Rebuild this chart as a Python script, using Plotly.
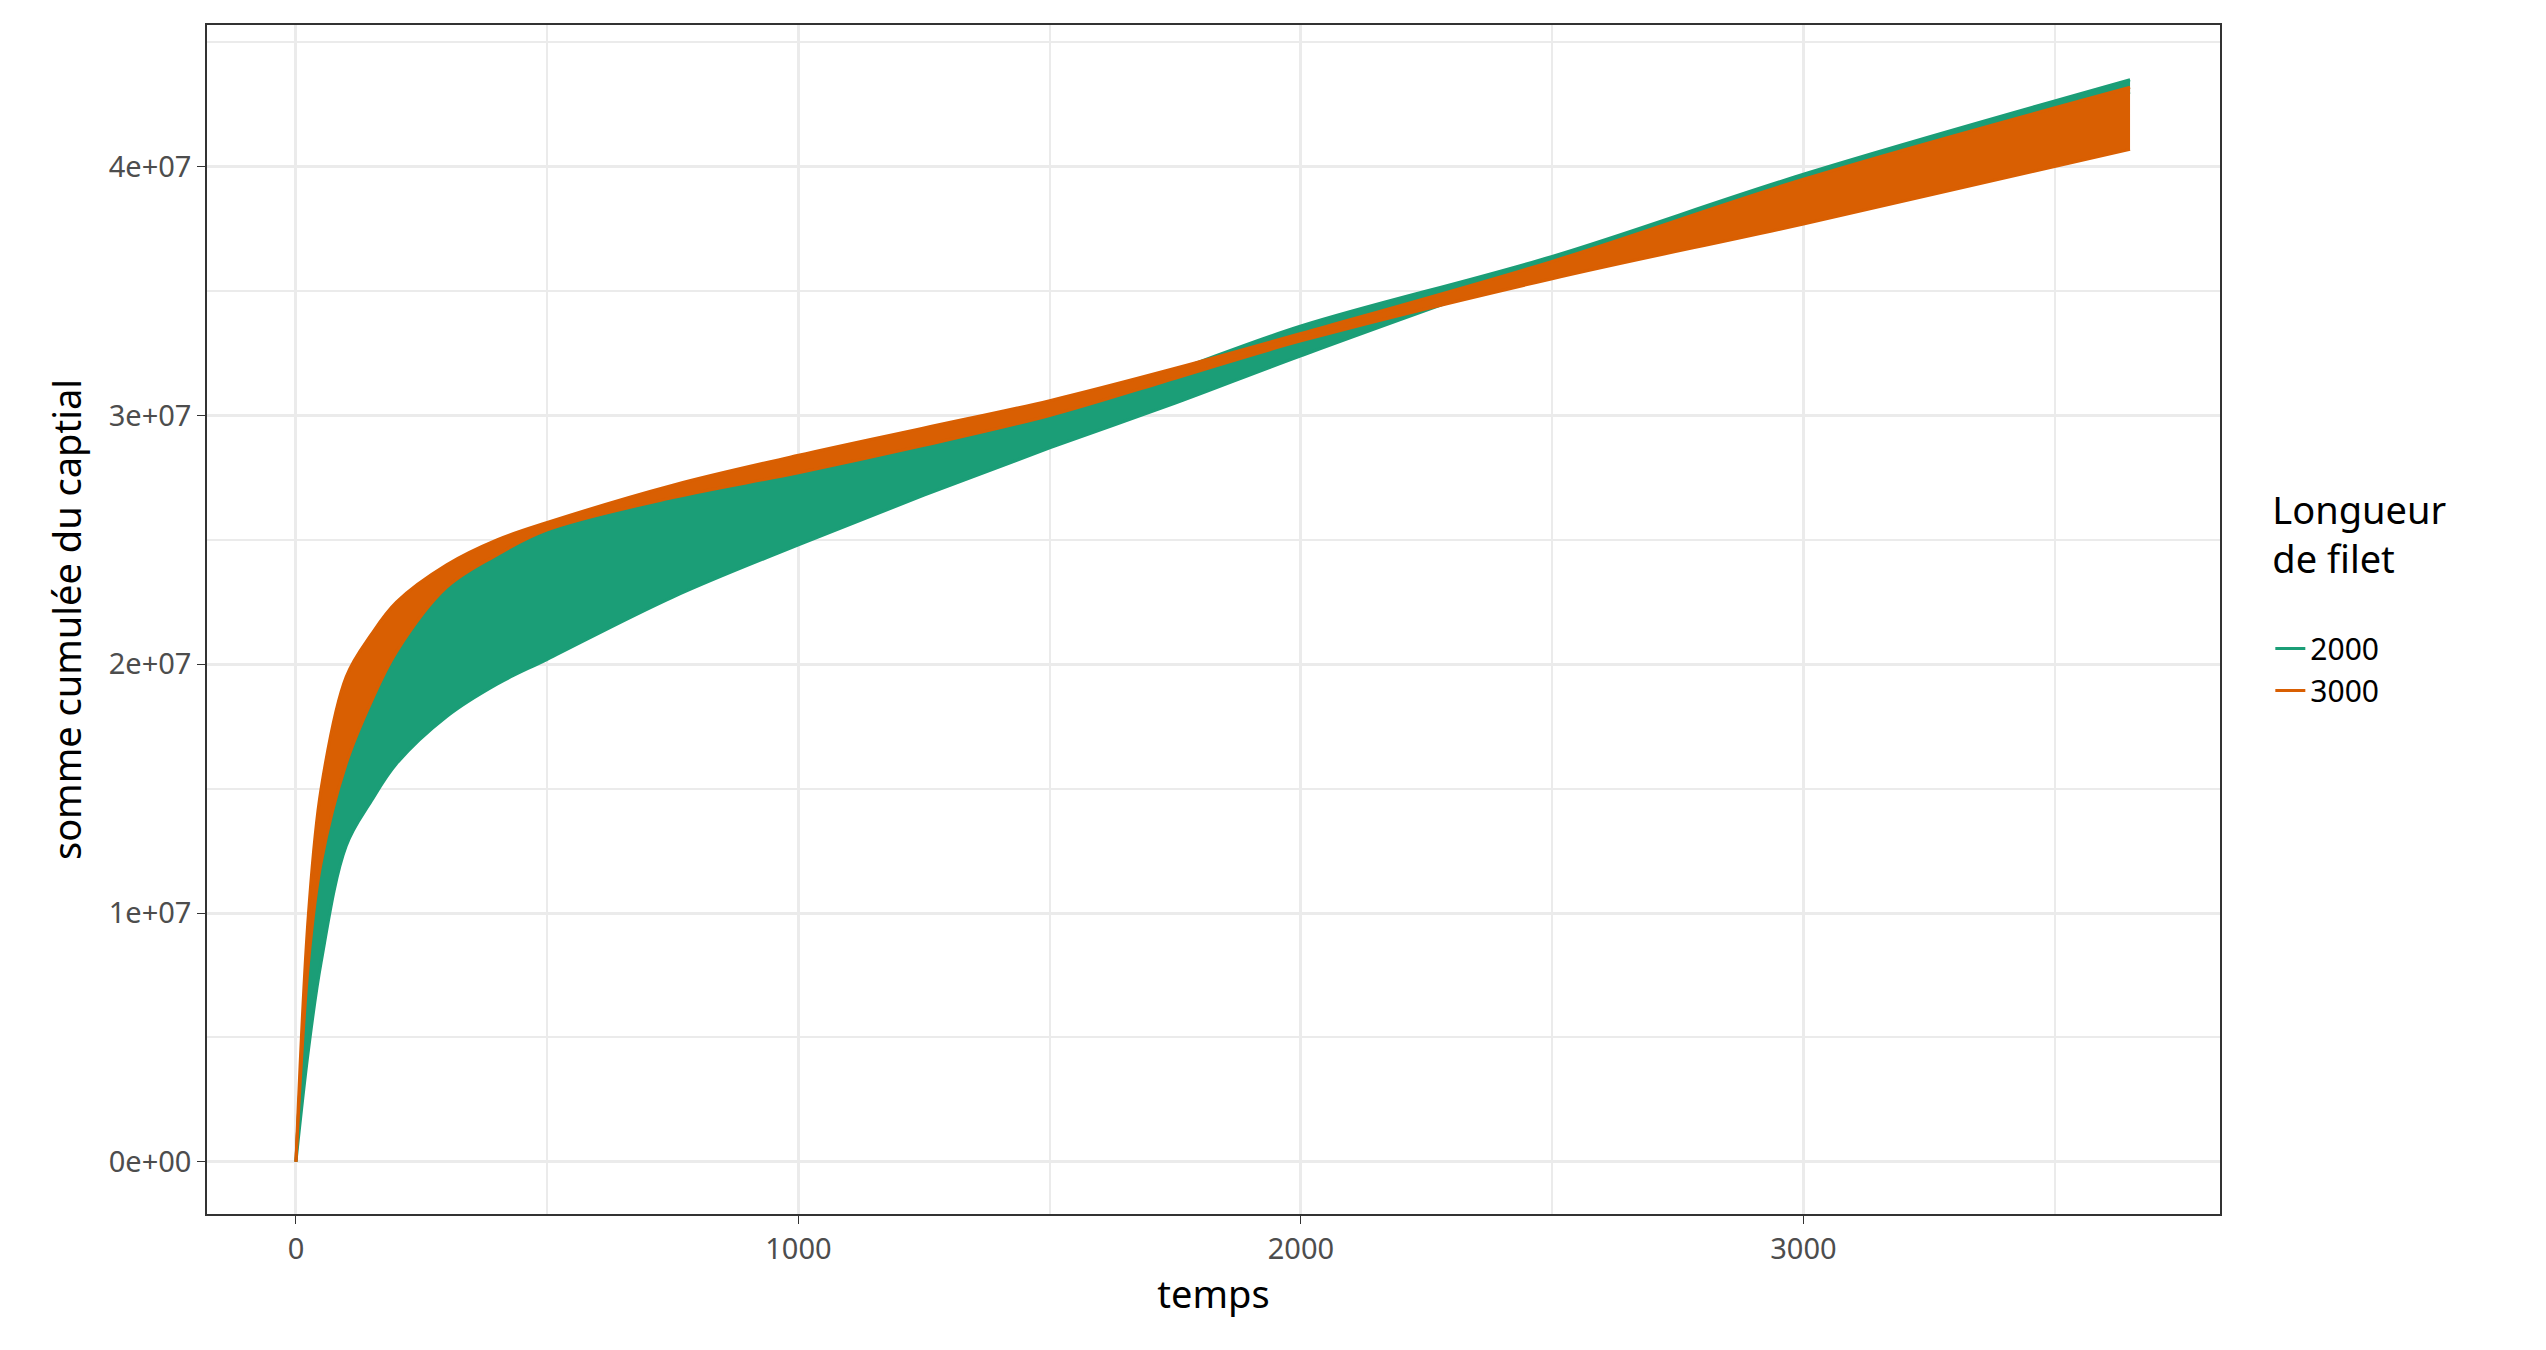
import plotly.graph_objects as go

temps = [0, 25, 50, 100, 150, 200, 300, 400, 500, 750, 1000, 1250, 1500, 1750, 2000, 2500, 3000, 3650]
# bornes des faisceaux de courbes (somme cumulée du capital)
low_2000 = [0, 0.45e7, 0.8e7, 1.27e7, 1.45e7, 1.6e7, 1.79e7, 1.92e7, 2.02e7, 2.27e7, 2.48e7, 2.68e7, 2.87e7, 3.05e7, 3.24e7, 3.6e7, 3.92e7, 4.3e7]
high_2000 = [0, 0.8e7, 1.2e7, 1.6e7, 1.85e7, 2.05e7, 2.31e7, 2.44e7, 2.54e7, 2.67e7, 2.77e7, 2.88e7, 3.0e7, 3.18e7, 3.36e7, 3.64e7, 3.97e7, 4.35e7]
low_3000 = [0, 0.8e7, 1.2e7, 1.6e7, 1.85e7, 2.05e7, 2.31e7, 2.44e7, 2.54e7, 2.67e7, 2.77e7, 2.88e7, 3.0e7, 3.15e7, 3.3e7, 3.55e7, 3.77e7, 4.07e7]
high_3000 = [0, 1.0e7, 1.5e7, 1.95e7, 2.12e7, 2.25e7, 2.4e7, 2.5e7, 2.57e7, 2.72e7, 2.84e7, 2.95e7, 3.06e7, 3.19e7, 3.33e7, 3.62e7, 3.95e7, 4.32e7]

y_ticks = [0, 1e7, 2e7, 3e7, 4e7]
y_labels = ["0e+00", "1e+07", "2e+07", "3e+07", "4e+07"]
x_ticks = [0, 1000, 2000, 3000]

groups = [("2000", "#1b9e77", low_2000, high_2000), ("3000", "#d95f02", low_3000, high_3000)]

fig = go.Figure()
for name, col, lo, hi in groups:
    fig.add_trace(go.Scatter(x=temps, y=lo, mode="lines", line=dict(color=col, width=3, shape="spline"),
                             showlegend=False, hoverinfo="skip", legendgroup=name))
    fig.add_trace(go.Scatter(x=temps, y=hi, mode="lines", fill="tonexty", fillcolor=col, legendgroup=name,
                             line=dict(color=col, width=3, shape="spline"), showlegend=False))
    fig.add_trace(go.Scatter(x=[None], y=[None], mode="lines", name=name, legendgroup=name,
                             line=dict(color=col, width=3)))

grid = "#ebebeb"
fig.update_layout(
    width=2546, height=1350, plot_bgcolor="white", paper_bgcolor="white",
    font=dict(family="Noto Sans", color="black"),
    margin=dict(l=199, r=334, t=17, b=144),
    legend=dict(title=dict(text="Longueur<br>de filet<br> ", font=dict(size=38)), font=dict(size=30),
                x=1.025, y=0.52, xanchor="left", yanchor="middle", tracegroupgap=25,
                traceorder="normal"),
)
axis_common = dict(showline=True, linecolor="#333333", linewidth=1.5, mirror=True, ticks="outside",
                   ticklen=8, tickcolor="#333333", tickfont=dict(size=29, color="#4d4d4d"),
                   gridcolor=grid, gridwidth=3, zeroline=False)
fig.update_xaxes(axis_common, range=[-177, 3829], tickvals=x_ticks,
                 title=dict(text="temps", font=dict(size=38)),
                 minor=dict(dtick=500, tick0=0, showgrid=True, gridcolor=grid, gridwidth=1.5, ticks=""))
fig.update_yaxes(axis_common, range=[-0.21e7, 4.57e7], tickvals=y_ticks, ticktext=y_labels,
                 title=dict(text="somme cumulée du captial", font=dict(size=38)),
                 minor=dict(dtick=0.5e7, tick0=0, showgrid=True, gridcolor=grid, gridwidth=1.5, ticks=""))
fig.write_html("out.html")
